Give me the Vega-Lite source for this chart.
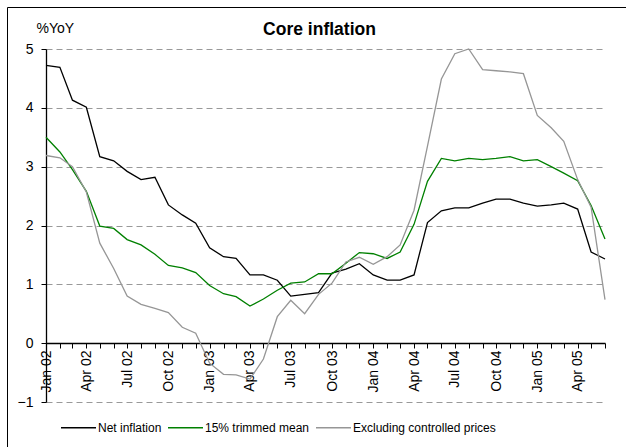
{
  "$schema": "https://vega.github.io/schema/vega-lite/v6.json",
  "width": 619,
  "height": 440,
  "autosize": {"type": "none"},
  "padding": {"left": 7, "top": 7, "right": 0, "bottom": 0},
  "background": "white",
  "title": {"text": "Core inflation", "font": "Liberation Sans", "fontSize": 17.5, "fontWeight": "bold", "color": "#000", "anchor": "middle", "frame": "group", "offset": -31, "dx": 3},
  "data": {"values": [
    {"m": "2002-01-01", "Net inflation": 4.72, "15% trimmed mean": 3.50, "Excluding controlled prices": 3.19},
    {"m": "2002-02-01", "Net inflation": 4.69, "15% trimmed mean": 3.25, "Excluding controlled prices": 3.15},
    {"m": "2002-03-01", "Net inflation": 4.13, "15% trimmed mean": 2.95, "Excluding controlled prices": 3.00},
    {"m": "2002-04-01", "Net inflation": 4.01, "15% trimmed mean": 2.58, "Excluding controlled prices": 2.57},
    {"m": "2002-05-01", "Net inflation": 3.17, "15% trimmed mean": 1.99, "Excluding controlled prices": 1.70},
    {"m": "2002-06-01", "Net inflation": 3.10, "15% trimmed mean": 1.95, "Excluding controlled prices": 1.27},
    {"m": "2002-07-01", "Net inflation": 2.92, "15% trimmed mean": 1.76, "Excluding controlled prices": 0.80},
    {"m": "2002-08-01", "Net inflation": 2.78, "15% trimmed mean": 1.67, "Excluding controlled prices": 0.66},
    {"m": "2002-09-01", "Net inflation": 2.82, "15% trimmed mean": 1.51, "Excluding controlled prices": 0.59},
    {"m": "2002-10-01", "Net inflation": 2.35, "15% trimmed mean": 1.32, "Excluding controlled prices": 0.52},
    {"m": "2002-11-01", "Net inflation": 2.18, "15% trimmed mean": 1.28, "Excluding controlled prices": 0.27},
    {"m": "2002-12-01", "Net inflation": 2.04, "15% trimmed mean": 1.20, "Excluding controlled prices": 0.17},
    {"m": "2003-01-01", "Net inflation": 1.62, "15% trimmed mean": 0.98, "Excluding controlled prices": -0.34},
    {"m": "2003-02-01", "Net inflation": 1.47, "15% trimmed mean": 0.84, "Excluding controlled prices": -0.53},
    {"m": "2003-03-01", "Net inflation": 1.44, "15% trimmed mean": 0.79, "Excluding controlled prices": -0.54},
    {"m": "2003-04-01", "Net inflation": 1.16, "15% trimmed mean": 0.63, "Excluding controlled prices": -0.61},
    {"m": "2003-05-01", "Net inflation": 1.16, "15% trimmed mean": 0.75, "Excluding controlled prices": -0.27},
    {"m": "2003-06-01", "Net inflation": 1.07, "15% trimmed mean": 0.90, "Excluding controlled prices": 0.45},
    {"m": "2003-07-01", "Net inflation": 0.80, "15% trimmed mean": 1.02, "Excluding controlled prices": 0.73},
    {"m": "2003-08-01", "Net inflation": 0.83, "15% trimmed mean": 1.04, "Excluding controlled prices": 0.50},
    {"m": "2003-09-01", "Net inflation": 0.86, "15% trimmed mean": 1.18, "Excluding controlled prices": 0.83},
    {"m": "2003-10-01", "Net inflation": 1.19, "15% trimmed mean": 1.18, "Excluding controlled prices": 1.02},
    {"m": "2003-11-01", "Net inflation": 1.26, "15% trimmed mean": 1.36, "Excluding controlled prices": 1.38},
    {"m": "2003-12-01", "Net inflation": 1.35, "15% trimmed mean": 1.54, "Excluding controlled prices": 1.46},
    {"m": "2004-01-01", "Net inflation": 1.16, "15% trimmed mean": 1.52, "Excluding controlled prices": 1.34},
    {"m": "2004-02-01", "Net inflation": 1.07, "15% trimmed mean": 1.44, "Excluding controlled prices": 1.47},
    {"m": "2004-03-01", "Net inflation": 1.07, "15% trimmed mean": 1.55, "Excluding controlled prices": 1.67},
    {"m": "2004-04-01", "Net inflation": 1.16, "15% trimmed mean": 2.02, "Excluding controlled prices": 2.26},
    {"m": "2004-05-01", "Net inflation": 2.05, "15% trimmed mean": 2.75, "Excluding controlled prices": 3.35},
    {"m": "2004-06-01", "Net inflation": 2.25, "15% trimmed mean": 3.14, "Excluding controlled prices": 4.49},
    {"m": "2004-07-01", "Net inflation": 2.30, "15% trimmed mean": 3.10, "Excluding controlled prices": 4.92},
    {"m": "2004-08-01", "Net inflation": 2.30, "15% trimmed mean": 3.14, "Excluding controlled prices": 5.00},
    {"m": "2004-09-01", "Net inflation": 2.38, "15% trimmed mean": 3.12, "Excluding controlled prices": 4.65},
    {"m": "2004-10-01", "Net inflation": 2.45, "15% trimmed mean": 3.14, "Excluding controlled prices": 4.63},
    {"m": "2004-11-01", "Net inflation": 2.45, "15% trimmed mean": 3.17, "Excluding controlled prices": 4.61},
    {"m": "2004-12-01", "Net inflation": 2.38, "15% trimmed mean": 3.10, "Excluding controlled prices": 4.58},
    {"m": "2005-01-01", "Net inflation": 2.33, "15% trimmed mean": 3.12, "Excluding controlled prices": 3.87},
    {"m": "2005-02-01", "Net inflation": 2.35, "15% trimmed mean": 3.00, "Excluding controlled prices": 3.66},
    {"m": "2005-03-01", "Net inflation": 2.38, "15% trimmed mean": 2.89, "Excluding controlled prices": 3.43},
    {"m": "2005-04-01", "Net inflation": 2.28, "15% trimmed mean": 2.76, "Excluding controlled prices": 2.78},
    {"m": "2005-05-01", "Net inflation": 1.55, "15% trimmed mean": 2.34, "Excluding controlled prices": 2.31},
    {"m": "2005-06-01", "Net inflation": 1.43, "15% trimmed mean": 1.77, "Excluding controlled prices": 0.74}
  ]},
  "transform": [
    {"fold": ["Net inflation", "15% trimmed mean", "Excluding controlled prices"], "as": ["series", "value"]}
  ],
  "mark": {"type": "line", "strokeWidth": 1.3},
  "encoding": {
    "x": {
      "field": "m", "type": "temporal",
      "scale": {"type": "utc", "domain": [{"year": 2002, "month": 1, "date": 1, "utc": true}, {"year": 2005, "month": 6, "date": 1, "utc": true}], "range": [39, 598]},
      "axis": {
        "orient": "bottom", "offset": -104, "title": null,
        "tickCount": {"interval": "month", "step": 1},
        "labelExpr": "utcmonth(datum.value) % 3 == 0 ? utcFormat(datum.value, '%b %y') : ''",
        "labelAngle": 270, "labelFont": "Liberation Sans", "labelFontSize": 14, "labelColor": "#000",
        "labelOverlap": false, "labelPadding": 2, "labelBound": false, "labelFlush": false,
        "tickSize": 5, "tickColor": "#000", "domainColor": "#000", "domainWidth": 1.3, "grid": false
      }
    },
    "y": {
      "field": "value", "type": "quantitative",
      "scale": {"domain": [-1, 5], "range": [395, 42], "nice": false, "zero": false},
      "axis": {
        "orient": "left", "offset": -39, "values": [-1, 0, 1, 2, 3, 4, 5], "format": "d",
        "title": "%YoY", "titleAngle": 0, "titleAlign": "left", "titleBaseline": "middle", "titleX": -10, "titleY": 21,
        "titleFont": "Liberation Sans", "titleFontSize": 14, "titleFontWeight": "normal", "titleColor": "#000",
        "labelFont": "Liberation Sans", "labelFontSize": 14, "labelColor": "#000", "labelPadding": 8,
        "tickSize": 5, "tickColor": "#000", "domainColor": "#000", "domainWidth": 1.3,
        "grid": true, "gridColor": "#999", "gridDash": [6, 4], "gridWidth": 1
      }
    },
    "color": {
      "field": "series", "type": "nominal",
      "scale": {"domain": ["Net inflation", "15% trimmed mean", "Excluding controlled prices"], "range": ["#000000", "#008000", "#969696"]},
      "legend": {
        "orient": "none", "legendX": 53, "legendY": 402, "direction": "horizontal", "title": null,
        "symbolType": "stroke", "symbolSize": 1225, "symbolStrokeWidth": 1.3,
        "labelFont": "Liberation Sans", "labelFontSize": 12, "labelColor": "#000", "labelOffset": 1,
        "columnPadding": 3, "padding": 0
      }
    }
  },
  "config": {"view": {"stroke": "#000", "strokeWidth": 1}, "font": "Liberation Sans"}
}
